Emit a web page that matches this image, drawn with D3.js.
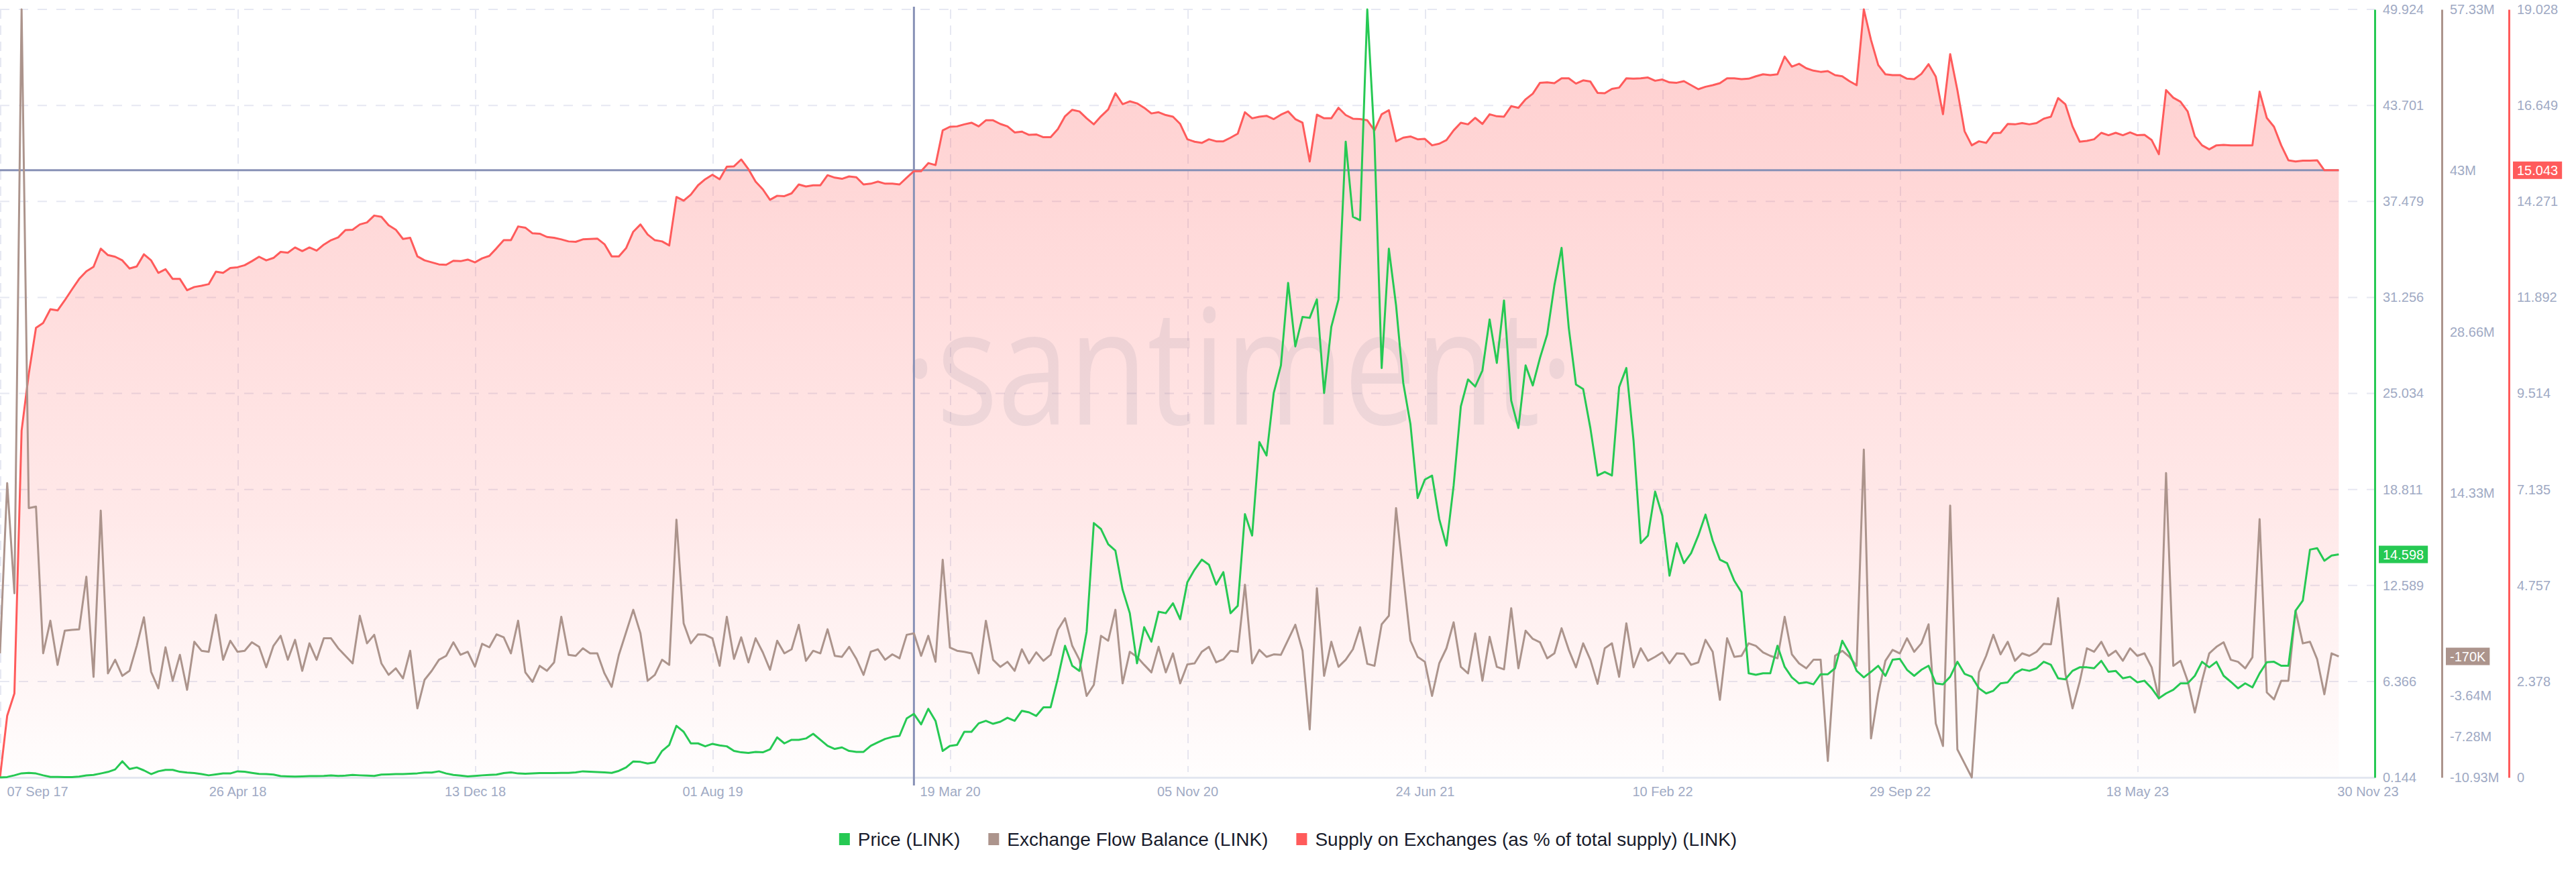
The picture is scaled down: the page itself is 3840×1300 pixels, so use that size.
<!DOCTYPE html>
<html>
<head>
<meta charset="utf-8">
<script src="https://cdn.jsdelivr.net/npm/d3@7"></script>
<style>
  html, body { margin: 0; padding: 0; background: #fff; }
  svg { display: block; font-family: "Liberation Sans", Arial, sans-serif; }
</style>
</head>
<body>
<svg id="chart" width="3840" height="1300"></svg>
<script>
'use strict';

// weekly points, first one on 07 Sep 17, last one on 30 Nov 23
var price = [
  0.144, 0.17, 0.28, 0.41, 0.44, 0.40, 0.28, 0.18, 0.18, 0.17,
  0.17, 0.20, 0.27, 0.31, 0.40, 0.50, 0.66, 1.19, 0.69, 0.79,
  0.60, 0.36, 0.54, 0.63, 0.63, 0.51, 0.46, 0.43, 0.36, 0.28,
  0.34, 0.40, 0.40, 0.54, 0.51, 0.44, 0.37, 0.36, 0.33, 0.23,
  0.21, 0.20, 0.21, 0.23, 0.23, 0.24, 0.27, 0.24, 0.26, 0.31,
  0.28, 0.26, 0.24, 0.33, 0.34, 0.36, 0.36, 0.38, 0.41, 0.46,
  0.46, 0.54, 0.40, 0.31, 0.26, 0.21, 0.24, 0.28, 0.31, 0.33,
  0.43, 0.47, 0.40, 0.38, 0.41, 0.43, 0.43, 0.43, 0.44, 0.44,
  0.47, 0.54, 0.51, 0.49, 0.47, 0.44, 0.57, 0.79, 1.18, 1.15,
  1.05, 1.12, 1.86, 2.25, 3.49, 3.10, 2.35, 2.35, 2.16, 2.32,
  2.22, 2.16, 1.86, 1.77, 1.73, 1.80, 1.77, 1.96, 2.74, 2.35,
  2.58, 2.58, 2.67, 2.97, 2.58, 2.19, 1.99, 2.09, 1.86, 1.80,
  1.80, 2.19, 2.42, 2.64, 2.77, 2.84, 3.97, 4.26, 3.58, 4.59,
  3.81, 1.86, 2.19, 2.25, 3.10, 3.10, 3.65, 3.81, 3.62, 3.75,
  4.01, 3.81, 4.46, 4.36, 4.13, 4.69, 4.69, 6.57, 8.68, 7.38,
  7.05, 9.58, 16.63, 16.24, 15.26, 14.84, 12.31, 10.79, 7.54, 9.88,
  8.94, 10.88, 10.79, 11.43, 10.40, 12.80, 13.61, 14.26, 13.93, 12.64,
  13.45, 10.79, 11.27, 17.21, 15.82, 21.88, 21.01, 25.06, 26.85, 32.20,
  28.08, 29.99, 29.93, 31.13, 25.06, 29.34, 31.13, 41.35, 36.48, 36.26,
  49.9238, 41.45, 26.68, 34.41, 30.74, 25.71, 23.03, 18.25, 19.45, 19.71,
  16.89, 15.17, 19.06, 24.19, 25.94, 25.48, 26.52, 29.83, 27.01, 31.06,
  24.57, 22.79, 26.85, 25.55, 27.33, 28.86, 32.04, 34.47, 29.28, 25.61,
  25.32, 22.79, 19.71, 19.94, 19.71, 25.45, 26.68, 21.98, 15.33, 15.82,
  18.67, 17.11, 13.22, 15.33, 14.03, 14.68, 15.82, 17.18, 15.49, 14.26,
  14.03, 12.89, 12.15, 6.89, 6.80, 6.89, 6.89, 8.68, 7.31, 6.63,
  6.24, 6.31, 6.18, 6.83, 6.83, 7.22, 9.00, 8.19, 7.05, 6.63,
  6.99, 7.38, 6.73, 7.77, 7.83, 7.12, 6.73, 7.12, 7.38, 6.24,
  6.18, 6.67, 7.64, 6.86, 6.67, 5.92, 5.59, 5.76, 6.24, 6.31,
  6.89, 7.15, 7.05, 7.22, 7.64, 7.44, 6.57, 6.50, 7.05, 7.28,
  7.28, 7.22, 7.70, 6.99, 7.05, 6.57, 6.67, 6.31, 6.41, 5.92,
  5.27, 5.59, 5.82, 6.24, 6.24, 6.73, 7.64, 7.28, 7.64, 6.73,
  6.34, 5.92, 6.24, 5.98, 6.89, 7.61, 7.64, 7.38, 7.38, 10.95,
  11.60, 14.91, 15.00, 14.19, 14.52, 14.598
];

// exchange flow balance, millions of LINK
var flow = [
  0.10, 15.23, 5.44, 57.33, 13.01, 13.14, 0.10, 3.00, -0.92, 2.11,
  2.19, 2.24, 6.91, -1.99, 12.78, -1.68, -0.47, -1.90, -1.45, 0.77,
  3.31, -1.54, -3.01, 0.64, -2.34, -0.03, -3.14, 1.13, 0.33, 0.24,
  3.53, -0.47, 1.22, 0.24, 0.33, 1.08, 0.68, -1.14, 0.77, 1.66,
  -0.47, 1.30, -1.45, 0.99, -0.47, 1.44, 1.44, 0.55, -0.12, -0.79,
  3.44, 0.99, 1.75, -0.79, -1.81, -1.23, -2.12, 0.33, -4.79, -2.25,
  -1.45, -0.47, -0.12, 1.08, -0.03, 0.24, -1.08, 0.95, 0.64, 1.79,
  1.53, 0.10, 3.00, -1.59, -2.43, -1.01, -1.45, -0.70, 3.35, -0.03,
  -0.12, 0.55, 0.10, 0.10, -1.68, -2.88, -0.03, 1.97, 3.97, 1.88,
  -2.34, -1.81, -0.47, -0.92, 11.98, 2.77, 0.99, 1.79, 1.75, 1.44,
  -1.01, 3.35, -0.39, 1.53, -0.70, 1.44, 0.19, -1.36, 1.22, 0.10,
  0.46, 2.64, -0.56, 0.33, 0.10, 2.24, -0.12, -0.21, 0.68, -0.39,
  -1.81, 0.24, 0.46, -0.47, 0.01, -0.34, 1.75, 1.88, -0.12, 1.66,
  -0.65, 8.42, 0.62, 0.33, 0.24, 0.10, -1.68, 3.00, -0.47, -1.10,
  -0.65, -1.45, 0.46, -0.79, 0.19, -0.56, -0.03, 2.19, 3.22, 0.77,
  -0.47, -3.68, -2.70, 1.66, 1.22, 3.97, -2.57, 0.24, -0.21, -0.92,
  -1.59, 0.68, -1.59, 0.10, -2.57, -0.88, -0.79, 0.24, 0.68, -0.70,
  -0.43, 0.33, 0.24, 6.20, -0.79, 0.41, -0.21, 0.01, -0.03, 1.30,
  2.64, 0.33, -6.66, 5.89, -1.90, 1.13, -1.10, -0.47, 0.46, 2.42,
  -0.83, -1.01, 2.68, 3.44, 13.01, 7.00, 1.22, -0.21, -0.65, -3.68,
  -0.79, 0.55, 2.86, -1.10, -1.68, 1.88, -2.34, 1.57, -1.10, -1.32,
  4.11, -1.23, 2.11, 1.39, 1.08, -0.34, 0.10, 2.33, 0.41, -1.14,
  0.99, -0.47, -2.61, 0.55, 0.99, -1.99, 2.77, -1.14, 0.55, -0.56,
  -0.21, 0.19, -0.79, 0.10, 0.06, -0.92, -0.70, 1.30, 0.24, -4.03,
  1.44, -0.21, -0.12, 0.99, 0.77, 0.19, -0.12, -0.34, 3.35, 0.01,
  -0.79, -1.23, -0.47, -0.47, -9.46, -0.12, 0.33, -0.21, -1.01, 18.21,
  -7.46, -3.46, -0.56, 0.41, 0.10, 1.44, 0.24, 0.99, 2.68, -6.13,
  -8.13, 13.23, -8.44, -9.68, -10.926, -1.59, -0.12, 1.75, 0.01, 1.13,
  -0.56, 0.10, -0.12, 0.24, 0.95, 0.90, 5.00, -1.68, -4.79, -2.43,
  0.55, 0.24, 1.13, -0.12, 0.33, -0.56, 0.55, -0.12, 0.10, -1.14,
  -3.90, 16.12, -1.01, -0.56, -2.34, -5.15, -2.34, 0.10, 0.68, 1.08,
  -0.47, -0.65, -1.23, -0.25, 12.03, -3.37, -3.99, -2.34, -2.34, 3.88,
  0.99, 1.13, -0.43, -3.54, 0.10, -0.17
];

// supply on exchanges, % of total supply
var supply = [
  0, 1.53, 2.08, 8.59, 10.0, 11.14, 11.26, 11.60, 11.57, 11.82,
  12.09, 12.35, 12.54, 12.65, 13.10, 12.94, 12.90, 12.81, 12.61, 12.66,
  12.96, 12.81, 12.50, 12.59, 12.35, 12.35, 12.07, 12.15, 12.18, 12.22,
  12.53, 12.50, 12.62, 12.64, 12.69, 12.79, 12.90, 12.81, 12.87, 13.02,
  13.00, 13.13, 13.04, 13.13, 13.05, 13.20, 13.31, 13.38, 13.56, 13.57,
  13.70, 13.75, 13.92, 13.89, 13.68, 13.57, 13.34, 13.37, 12.91, 12.81,
  12.76, 12.71, 12.70, 12.80, 12.79, 12.83, 12.76, 12.86, 12.92, 13.11,
  13.31, 13.31, 13.65, 13.62, 13.48, 13.47, 13.39, 13.37, 13.33, 13.28,
  13.27, 13.33, 13.34, 13.35, 13.21, 12.91, 12.91, 13.11, 13.52, 13.70,
  13.45, 13.31, 13.28, 13.18, 14.38, 14.29, 14.44, 14.67, 14.82, 14.93,
  14.82, 15.13, 15.14, 15.31, 15.07, 14.76, 14.57, 14.31, 14.41, 14.40,
  14.47, 14.69, 14.64, 14.67, 14.67, 14.92, 14.86, 14.83, 14.89, 14.87,
  14.69, 14.71, 14.76, 14.71, 14.71, 14.69, 14.86, 15.02, 15.02, 15.22,
  15.17, 16.03, 16.12, 16.13, 16.18, 16.22, 16.13, 16.28, 16.28, 16.19,
  16.13, 15.98, 16.00, 15.92, 15.93, 15.86, 15.86, 16.06, 16.38, 16.54,
  16.50, 16.33, 16.18, 16.38, 16.55, 16.95, 16.68, 16.75, 16.70, 16.59,
  16.45, 16.48, 16.41, 16.37, 16.19, 15.81, 15.75, 15.72, 15.81, 15.76,
  15.76, 15.85, 15.95, 16.48, 16.33, 16.37, 16.39, 16.31, 16.42, 16.50,
  16.31, 16.22, 15.26, 16.42, 16.33, 16.33, 16.59, 16.41, 16.32, 16.31,
  16.28, 16.03, 16.43, 16.53, 15.76, 15.85, 15.88, 15.81, 15.82, 15.66,
  15.70, 15.79, 16.03, 16.22, 16.18, 16.34, 16.19, 16.43, 16.38, 16.37,
  16.63, 16.59, 16.80, 16.94, 17.21, 17.22, 17.20, 17.32, 17.32, 17.19,
  17.27, 17.24, 16.96, 16.95, 17.06, 17.09, 17.32, 17.31, 17.32, 17.34,
  17.26, 17.29, 17.22, 17.21, 17.25, 17.15, 17.05, 17.11, 17.15, 17.20,
  17.32, 17.32, 17.30, 17.31, 17.37, 17.42, 17.40, 17.42, 17.86, 17.61,
  17.68, 17.57, 17.51, 17.48, 17.50, 17.40, 17.37, 17.25, 17.15, 19.0278,
  18.27, 17.65, 17.42, 17.40, 17.40, 17.31, 17.30, 17.43, 17.67, 17.36,
  16.43, 17.92, 17.03, 16.01, 15.66, 15.76, 15.72, 15.96, 15.97, 16.19,
  16.18, 16.21, 16.18, 16.21, 16.32, 16.37, 16.83, 16.68, 16.13, 15.75,
  15.77, 15.81, 15.97, 15.91, 15.97, 15.91, 15.98, 15.91, 15.92, 15.79,
  15.44, 17.03, 16.84, 16.74, 16.50, 15.88, 15.66, 15.56, 15.66, 15.67,
  15.66, 15.66, 15.66, 15.66, 16.99, 16.34, 16.12, 15.66, 15.29, 15.26,
  15.28, 15.28, 15.29, 15.043, 15.043, 15.043
];

var dateLabels = ['07 Sep 17', '26 Apr 18', '13 Dec 18', '01 Aug 19', '19 Mar 20',
  '05 Nov 20', '24 Jun 21', '10 Feb 22', '29 Sep 22', '18 May 23', '30 Nov 23'];

var seriesNames = ['Price (LINK)', 'Exchange Flow Balance (LINK)',
  'Supply on Exchanges (as % of total supply) (LINK)'];
var seriesColors = ['#26c953', '#ac948c', '#ff5b5b'];

var hoverWeek = 127; // where the vertical crosshair sits

var svg = d3.select('#chart'),
  width = +svg.attr('width'),
  height = +svg.attr('height'),
  plotTop = 14,
  plotRight = 3540,
  plotBottom = 1159;

var parseLabel = d3.timeParse('%d %b %y');
var start = parseLabel(dateLabels[0]);
var dates = price.map(function(d, i) { return d3.timeDay.offset(start, 7 * i); });

// the visible range runs a few weeks past the last point, santiment splits it in ten
var step = d3.timeDay.count(start, parseLabel(dateLabels[1]));
var axisEnd = d3.timeDay.offset(start, 10 * step);

var x = d3.scaleTime().domain([start, axisEnd]).range([0, plotRight]);
var yPrice = d3.scaleLinear().domain(d3.extent(price)).range([plotBottom, plotTop]);
var yFlow = d3.scaleLinear().domain(d3.extent(flow)).range([plotBottom, plotTop]);
var ySupply = d3.scaleLinear().domain([0, d3.max(supply)]).range([plotBottom, plotTop]);

function evenTicks(scale) {
  var d = scale.domain();
  return d3.range(9).map(function(i) { return d[0] + i * (d[1] - d[0]) / 8; });
}
var priceTicks = evenTicks(yPrice);
var supplyTicks = evenTicks(ySupply);
var fMax = yFlow.domain()[1], fMin = yFlow.domain()[0];
var flowTicks = [fMax, fMax * 3 / 4, fMax / 2, fMax / 4, fMin / 3, fMin * 2 / 3, fMin];

var tickDates = dateLabels.slice(0, 10).map(parseLabel).concat([axisEnd]);

function fmt3(v) { return String(+v.toFixed(3)); }
function fmtFlow(v) { return String(+v.toFixed(2)) + 'M'; }
function fmtFlowBadge(v) {
  return Math.abs(v) < 1 ? Math.round(v * 1000) + 'K' : String(+v.toFixed(2)) + 'M';
}

// gradient for the supply area
var grad = svg.append('defs').append('linearGradient')
  .attr('id', 'supplyFill')
  .attr('gradientUnits', 'userSpaceOnUse')
  .attr('x1', 0).attr('x2', 0).attr('y1', plotTop).attr('y2', plotBottom);
grad.append('stop').attr('offset', 0).attr('stop-color', '#ff5b5b').attr('stop-opacity', 0.3);
grad.append('stop').attr('offset', 0.65).attr('stop-color', '#ff5b5b').attr('stop-opacity', 0.14);
grad.append('stop').attr('offset', 1).attr('stop-color', '#ff5b5b').attr('stop-opacity', 0.01);

// grid
var grid = svg.append('g').attr('class', 'grid');
grid.selectAll('line.h')
  .data(priceTicks.slice(1))
  .enter().append('line')
  .attr('class', 'h')
  .attr('x1', 0).attr('x2', plotRight)
  .attr('y1', function(d) { return yPrice(d); })
  .attr('y2', function(d) { return yPrice(d); })
  .attr('stroke', '#e6e8f2').attr('stroke-width', 2)
  .attr('stroke-dasharray', '14,14');
grid.selectAll('line.v')
  .data(tickDates.slice(0, 10))
  .enter().append('line')
  .attr('class', 'v')
  .attr('x1', function(d) { return x(d) + 1; })
  .attr('x2', function(d) { return x(d) + 1; })
  .attr('y1', plotTop).attr('y2', plotBottom - 8)
  .attr('stroke', '#e6e8f2').attr('stroke-width', 2)
  .attr('stroke-dasharray', '14,10');

// supply area
var area = d3.area()
  .x(function(d, i) { return x(dates[i]); })
  .y0(plotBottom)
  .y1(function(d) { return ySupply(d); });
svg.append('path')
  .datum(supply)
  .attr('d', area)
  .attr('fill', 'url(#supplyFill)');

// watermark
svg.append('text')
  .attr('x', 1846).attr('y', 633)
  .attr('text-anchor', 'middle')
  .attr('textLength', 1000)
  .attr('lengthAdjust', 'spacingAndGlyphs')
  .style('font-family', '"Open Sans", sans-serif')
  .style('font-size', '240px')
  .attr('fill', '#8c8ca0')
  .attr('fill-opacity', 0.15)
  .text('\u00B7santiment\u00B7');

// x axis
var xAxis = d3.axisBottom(x)
  .tickValues(tickDates)
  .tickSize(0)
  .tickPadding(14)
  .tickFormat(function(d, i) { return dateLabels[i]; });
var gx = svg.append('g')
  .attr('transform', 'translate(0,' + plotBottom + ')')
  .call(xAxis);
gx.select('.domain').attr('stroke', '#e3e7f0').attr('stroke-width', 3);
gx.selectAll('text')
  .attr('fill', '#9faac4')
  .style('font-size', '20px')
  .style('font-family', '"Liberation Sans", Arial, sans-serif');
gx.selectAll('.tick').filter(function(d, i) { return i === 0; })
  .select('text').attr('text-anchor', 'start').attr('dx', 10);
gx.selectAll('.tick').filter(function(d, i) { return i === tickDates.length - 1; })
  .select('text').attr('text-anchor', 'end').attr('dx', 35);

// crosshair
var lastIdx = supply.length - 1;
svg.append('line')
  .attr('x1', 0).attr('x2', x(dates[lastIdx]))
  .attr('y1', ySupply(supply[lastIdx])).attr('y2', ySupply(supply[lastIdx]))
  .attr('stroke', '#8891b6').attr('stroke-width', 3);
svg.append('line')
  .attr('x1', x(dates[hoverWeek])).attr('x2', x(dates[hoverWeek]))
  .attr('y1', 10).attr('y2', plotBottom + 12)
  .attr('stroke', '#8891b6').attr('stroke-width', 3);

// lines
var supplyLine = d3.line()
  .x(function(d, i) { return x(dates[i]); })
  .y(function(d) { return ySupply(d); });
var flowLine = d3.line()
  .x(function(d, i) { return x(dates[i]); })
  .y(function(d) { return yFlow(d); });
var priceLine = d3.line()
  .x(function(d, i) { return x(dates[i]); })
  .y(function(d) { return yPrice(d); });

svg.append('path').datum(supply).attr('d', supplyLine)
  .attr('fill', 'none').attr('stroke', seriesColors[2]).attr('stroke-width', 3)
  .attr('stroke-linejoin', 'round');
svg.append('path').datum(flow).attr('d', flowLine)
  .attr('fill', 'none').attr('stroke', seriesColors[1]).attr('stroke-width', 3)
  .attr('stroke-linejoin', 'round');
svg.append('path').datum(price).attr('d', priceLine)
  .attr('fill', 'none').attr('stroke', seriesColors[0]).attr('stroke-width', 3)
  .attr('stroke-linejoin', 'round');

// right axes
function drawAxis(scale, ticks, fmt, xPos, color) {
  var axis = d3.axisRight(scale)
    .tickValues(ticks)
    .tickSize(0)
    .tickPadding(12)
    .tickFormat(fmt);
  var g = svg.append('g')
    .attr('transform', 'translate(' + xPos + ',0)')
    .call(axis);
  g.select('.domain').attr('stroke', color).attr('stroke-width', 3);
  g.selectAll('text')
    .attr('fill', '#9faac4')
    .style('font-size', '20px')
    .style('font-family', '"Liberation Sans", Arial, sans-serif');
  return g;
}
drawAxis(yPrice, priceTicks, fmt3, plotRight, seriesColors[0]);
drawAxis(yFlow, flowTicks, fmtFlow, plotRight + 100, seriesColors[1]);
drawAxis(ySupply, supplyTicks, fmt3, plotRight + 200, seriesColors[2]);

// last value badges
function badge(xPos, y, label, color) {
  var g = svg.append('g').attr('transform', 'translate(' + (xPos + 6) + ',' + y + ')');
  var rect = g.append('rect').attr('y', -13).attr('height', 26).attr('fill', color);
  var t = g.append('text')
    .attr('x', 6).attr('dy', '0.35em')
    .attr('fill', '#fff')
    .style('font-size', '20px')
    .text(label);
  rect.attr('width', t.node().getComputedTextLength() + 12);
}
badge(plotRight, yPrice(price[lastIdx]), fmt3(price[lastIdx]), seriesColors[0]);
badge(plotRight + 100, yFlow(flow[lastIdx]), fmtFlowBadge(flow[lastIdx]), seriesColors[1]);
badge(plotRight + 200, ySupply(supply[lastIdx]), fmt3(supply[lastIdx]), seriesColors[2]);

// legend
var legend = svg.append('g').attr('transform', 'translate(0,1251)');
var cursor = 0;
seriesNames.forEach(function(name, i) {
  var item = legend.append('g').attr('transform', 'translate(' + cursor + ',0)');
  item.append('rect')
    .attr('x', 0).attr('y', -9).attr('width', 16).attr('height', 18)
    .attr('fill', seriesColors[i]);
  var t = item.append('text')
    .attr('x', 28).attr('dy', '0.35em')
    .attr('fill', '#181b2b')
    .style('font-size', '28px')
    .text(name);
  cursor += 28 + t.node().getComputedTextLength() + 42;
});
var legendWidth = cursor - 42;
legend.attr('transform', 'translate(' + (width / 2 - legendWidth / 2) + ',1251)');
</script>
</body>
</html>
